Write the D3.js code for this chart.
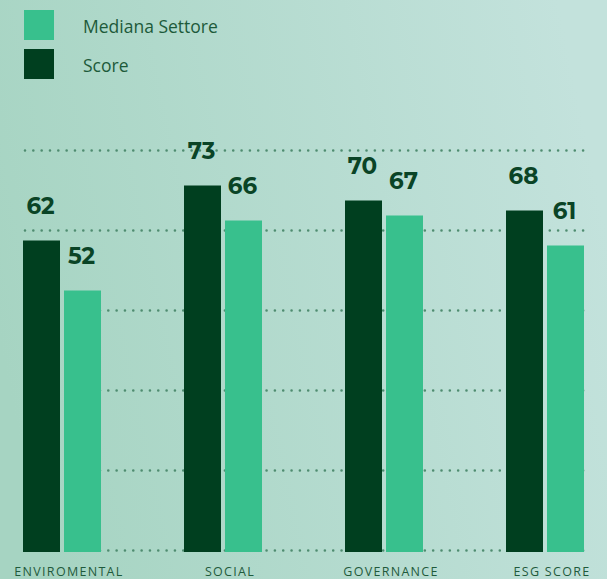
<!DOCTYPE html>
<html>
<head>
<meta charset="utf-8">
<script src="https://cdn.jsdelivr.net/npm/d3@7"></script>
<style>
  html, body { margin: 0; padding: 0; }
  body { width: 607px; height: 579px; overflow: hidden; }
  svg { display: block; }
</style>
</head>
<body>
<svg id="chart" width="607" height="579"></svg>
<script>
// ESG scores by pillar, company vs sector median
const categories = ["ENVIROMENTAL", "SOCIAL", "GOVERNANCE", "ESG SCORE"];
const scoreValues = [62, 73, 70, 68];
const medianValues = [52, 66, 67, 61];
const seriesNames = ["Score", "Mediana Settore"];
const legendLabels = ["Mediana Settore", "Score"];
const gridTicks = [0, 16, 32, 48, 64, 80];

const colors = { "Score": "#003f1f", "Mediana Settore": "#38c08d" };

const W = 607, H = 579;
const svg = d3.select("#chart");

// background wash
const defs = svg.append("defs");
const grad = defs.append("linearGradient")
  .attr("id", "bg").attr("x1", "0%").attr("y1", "60%").attr("x2", "100%").attr("y2", "40%");
grad.append("stop").attr("offset", "0%").attr("stop-color", "#a6d4c2");
grad.append("stop").attr("offset", "100%").attr("stop-color", "#c3e2dc");
svg.append("rect").attr("width", W).attr("height", H).attr("fill", "url(#bg)");

// groups on a 161px step; each holds two 37px bars with a 4px gap
const x0 = d3.scaleBand().domain(categories).range([23, 667]).paddingInner(0).paddingOuter(0);
const x1 = d3.scaleBand().domain(seriesNames).range([0, 78]).paddingInner(4 / 41);
const y = d3.scaleLinear().domain([0, 80]).range([550.5, 150.5]);

// dotted gridlines
const grid = svg.append("g");
gridTicks.forEach(t => {
  grid.append("line")
    .attr("x1", 25).attr("x2", 589)
    .attr("y1", Math.round(y(t)) - 0.5).attr("y2", Math.round(y(t)) - 0.5)
    .attr("stroke", "#4f8c70")
    .attr("stroke-width", 2.6)
    .attr("stroke-linecap", "round")
    .attr("stroke-dasharray", "0 8.33");
});

const rows = categories.map((c, i) => ({ cat: c, Score: scoreValues[i], "Mediana Settore": medianValues[i] }));

const groups = svg.append("g").selectAll("g")
  .data(rows).join("g")
  .attr("transform", d => `translate(${x0(d.cat)},0)`);

groups.selectAll("rect")
  .data(d => seriesNames.map(k => ({ key: k, value: d[k] })))
  .join("rect")
  .attr("x", d => x1(d.key))
  .attr("width", x1.bandwidth())
  .attr("y", d => y(d.value))
  .attr("height", d => y(0) + 1.5 - y(d.value))
  .attr("fill", d => colors[d.key]);

groups.selectAll("text.val")
  .data(d => seriesNames.map(k => ({ key: k, value: d[k] })))
  .join("text")
  .attr("class", "val")
  .attr("x", d => x1(d.key) + x1.bandwidth() / 2 - 1)
  .attr("y", d => y(d.value) - 27)
  .attr("text-anchor", "middle")
  .attr("font-family", "Montserrat, 'Open Sans', sans-serif")
  .attr("font-weight", 700)
  .attr("font-size", 23)
  .attr("fill", "#0a4426")
  .text(d => d.value);

// category labels
svg.append("g").selectAll("text")
  .data(categories).join("text")
  .attr("x", d => x0(d) + 46)
  .attr("y", 576)
  .attr("text-anchor", "middle")
  .attr("font-family", "'Open Sans', sans-serif")
  .attr("font-size", 12.5)
  .attr("letter-spacing", 1.3)
  .attr("fill", "#1f5a3c")
  .text(d => d);

// legend
const legend = svg.append("g");
legendLabels.forEach((name, i) => {
  legend.append("rect")
    .attr("x", 24).attr("y", 10 + i * 39)
    .attr("width", 30).attr("height", 30)
    .attr("fill", colors[name]);
  legend.append("text")
    .attr("x", 83).attr("y", 27 + i * 39)
    .attr("dy", "0.35em")
    .attr("font-family", "'Open Sans', sans-serif")
    .attr("font-size", 17.5)
    .attr("fill", "#1d5a3a")
    .text(name);
});
</script>
</body>
</html>
